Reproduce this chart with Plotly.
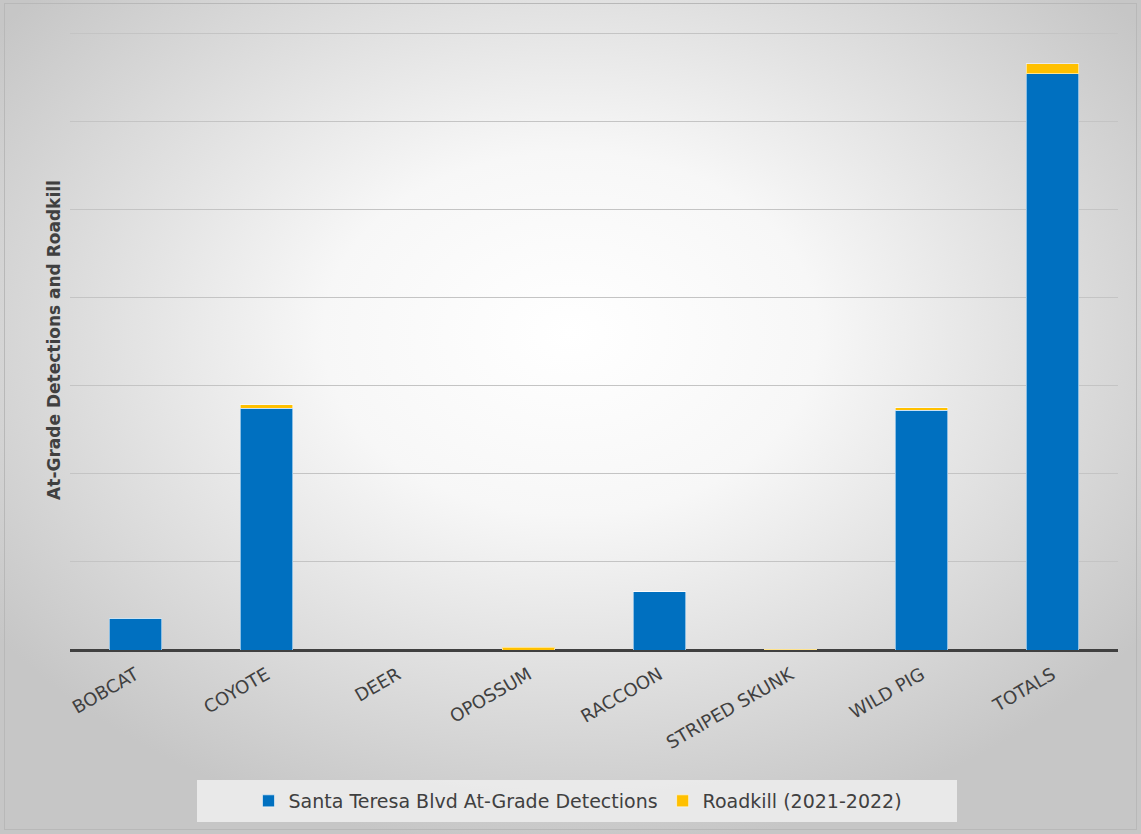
import base64
import plotly.graph_objects as go

categories = ["BOBCAT", "COYOTE", "DEER", "OPOSSUM", "RACCOON", "STRIPED SKUNK", "WILD PIG", "TOTALS"]
detections = [36, 274, 0, 0, 66, 0, 272, 654]
roadkill = [0, 4, 0, 3, 0, 1, 3, 11]

W, H = 1141, 834
ml, mr, mt, mb = 70, 23, 30, 184
pw, ph = W - ml - mr, H - mt - mb
ymax = 700 * ph / 617.0

svg = f'''<svg xmlns="http://www.w3.org/2000/svg" width="{W}" height="{H}" viewBox="0 0 {W} {H}" preserveAspectRatio="none">
<defs><radialGradient id="g" cx="0.5" cy="0.4" r="0.62" gradientUnits="objectBoundingBox">
<stop offset="0" stop-color="#ffffff"/><stop offset="0.35" stop-color="#f7f7f7"/><stop offset="1" stop-color="#c6c6c6"/></radialGradient></defs>
<rect x="0" y="0" width="{W}" height="{H}" fill="url(#g)"/>
<rect x="4.5" y="3.5" width="{W-9}" height="{H-8}" fill="none" stroke="#b8b8b8" stroke-width="1"/>
</svg>'''
src = "data:image/svg+xml;base64," + base64.b64encode(svg.encode()).decode()

def px_x(x):
    return (x - ml) / pw

def px_y(y):
    return (H - mb - y) / ph

fig = go.Figure()
fig.add_trace(go.Bar(x=categories, y=detections, name="Santa Teresa Blvd At-Grade Detections",
                     marker=dict(color="#0070C0", line=dict(color="rgba(255,255,255,0.55)", width=1))))
fig.add_trace(go.Bar(x=categories, y=roadkill, name="Roadkill (2021-2022)",
                     marker=dict(color="#FFC000", line=dict(color="rgba(255,255,255,0.55)", width=1))))

fig.update_layout(
    width=W, height=H,
    margin=dict(l=ml, r=mr, t=mt, b=mb, autoexpand=False),
    barmode="stack", bargap=0.6,
    paper_bgcolor="#d8d8d8", plot_bgcolor="rgba(0,0,0,0)",
    font=dict(family="DejaVu Sans, sans-serif", color="#404040"),
    images=[dict(source=src, xref="paper", yref="paper",
                 x=px_x(0), y=px_y(0), sizex=W / pw, sizey=H / ph,
                 xanchor="left", yanchor="top", sizing="stretch", layer="below")],
    shapes=[dict(type="rect", xref="paper", yref="paper",
                 x0=px_x(197), x1=px_x(957), y0=px_y(822), y1=px_y(780),
                 fillcolor="rgba(236,236,236,0.9)", line=dict(width=0), layer="below")],
    legend=dict(orientation="h", x=px_x(578), xanchor="center", y=px_y(801), yanchor="middle",
                bgcolor="rgba(0,0,0,0)", font=dict(size=19, color="#404040"),
                itemwidth=30, traceorder="normal"),
    xaxis=dict(tickangle=-30, tickfont=dict(size=18, color="#404040"), showgrid=False,
               ticks="", showline=False, ticklabelstandoff=10),
    yaxis=dict(range=[0, ymax], tick0=0, dtick=100, showticklabels=False, gridcolor="#c4c4c4", gridwidth=1,
               zeroline=True, zerolinecolor="#404040", zerolinewidth=3, showline=False,
               title=dict(text="<b>At-Grade Detections and Roadkill</b>", font=dict(size=17, color="#404040"),
                          standoff=4)),
)

fig.write_html("out.html", post_script="document.body.style.margin='0';",
               config={"displayModeBar": False})
